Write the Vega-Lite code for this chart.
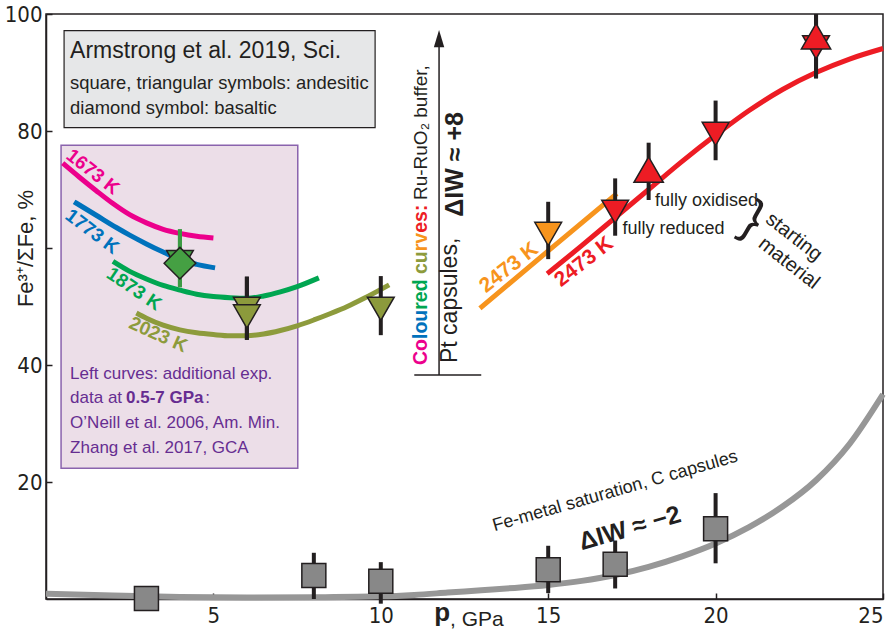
{
  "$schema": "https://vega.github.io/schema/vega-lite/v6.json",
  "width": 837,
  "height": 585,
  "autosize": "none",
  "padding": {"left": 46, "top": 14, "right": 10, "bottom": 38},
  "background": "white",
  "config": {
    "font": "Liberation Sans",
    "view": {"stroke": "#231f20", "strokeWidth": 1.5},
    "axis": {"grid": false, "domainColor": "#231f20", "domainWidth": 1.5, "tickColor": "#231f20", "tickWidth": 1.5, "tickSize": -6, "labelFont": "Liberation Sans Narrow, DejaVu Sans Condensed, Liberation Sans", "labelFontSize": 22, "labelColor": "#231f20"},
    "text": {"font": "Liberation Sans", "color": "#231f20"}
  },
  "datasets": {
    "pts": [
      {"p": 3, "f": 0.1, "lo": 0.1, "hi": 0.1, "series": "Fe-metal", "marker": "square"},
      {"p": 8, "f": 4.0, "lo": 0, "hi": 7.9, "series": "Fe-metal", "marker": "square"},
      {"p": 10, "f": 3.05, "lo": -0.8, "hi": 6.3, "series": "Fe-metal", "marker": "square"},
      {"p": 15, "f": 5.0, "lo": 1.0, "hi": 9.1, "series": "Fe-metal", "marker": "square"},
      {"p": 17, "f": 5.95, "lo": 1.8, "hi": 10.0, "series": "Fe-metal", "marker": "square"},
      {"p": 20, "f": 12.0, "lo": 6.1, "hi": 18.1, "series": "Fe-metal", "marker": "square"},
      {"p": 4, "f": 57.6, "lo": 53.3, "hi": 63.2, "series": "1873 K", "marker": "down"},
      {"p": 4, "f": 57.4, "lo": 53.3, "hi": 63.2, "series": "1873 K", "marker": "diamond"},
      {"p": 6, "f": 49.6, "lo": 44.3, "hi": 55.1, "series": "2023 K", "marker": "down"},
      {"p": 6, "f": 48.3, "lo": 44.3, "hi": 55.1, "series": "2023 K", "marker": "down"},
      {"p": 10, "f": 49.6, "lo": 45.1, "hi": 55.2, "series": "2023 K", "marker": "down"},
      {"p": 15, "f": 62.4, "lo": 58.1, "hi": 67.9, "series": "2473 K a", "marker": "down"},
      {"p": 17, "f": 66.2, "lo": 62.1, "hi": 71.9, "series": "2473 K b", "marker": "down"},
      {"p": 18, "f": 73.4, "lo": 68.2, "hi": 78.0, "series": "2473 K b", "marker": "up"},
      {"p": 20, "f": 79.5, "lo": 75.0, "hi": 85.2, "series": "2473 K b", "marker": "down"},
      {"p": 23, "f": 94.3, "lo": 89.0, "hi": 100, "series": "2473 K b", "marker": "down"},
      {"p": 23, "f": 96.2, "lo": 89.0, "hi": 100, "series": "2473 K b", "marker": "up"}
    ],
    "curves": [
      {"series": "1673 K", "p": 0.5, "f": 74.5}, {"series": "1673 K", "p": 1, "f": 72.1}, {"series": "1673 K", "p": 1.5, "f": 69.8}, {"series": "1673 K", "p": 2, "f": 67.6}, {"series": "1673 K", "p": 2.5, "f": 65.7}, {"series": "1673 K", "p": 3, "f": 64.3}, {"series": "1673 K", "p": 3.5, "f": 63.2}, {"series": "1673 K", "p": 4, "f": 62.5}, {"series": "1673 K", "p": 4.5, "f": 62.0}, {"series": "1673 K", "p": 5, "f": 61.7},
      {"series": "1773 K", "p": 0.84, "f": 67.9}, {"series": "1773 K", "p": 1.5, "f": 65.6}, {"series": "1773 K", "p": 2.1, "f": 63.5}, {"series": "1773 K", "p": 2.5, "f": 62.2}, {"series": "1773 K", "p": 3, "f": 60.7}, {"series": "1773 K", "p": 3.5, "f": 59.3}, {"series": "1773 K", "p": 4, "f": 58.0}, {"series": "1773 K", "p": 4.5, "f": 57.2}, {"series": "1773 K", "p": 5.05, "f": 56.6},
      {"series": "1873 K", "p": 2.0, "f": 57.7}, {"series": "1873 K", "p": 2.5, "f": 56.0}, {"series": "1873 K", "p": 3, "f": 54.7}, {"series": "1873 K", "p": 3.5, "f": 53.6}, {"series": "1873 K", "p": 4, "f": 52.8}, {"series": "1873 K", "p": 4.5, "f": 52.1}, {"series": "1873 K", "p": 5, "f": 51.7}, {"series": "1873 K", "p": 5.5, "f": 51.5}, {"series": "1873 K", "p": 6, "f": 51.4}, {"series": "1873 K", "p": 6.5, "f": 51.8}, {"series": "1873 K", "p": 7, "f": 52.5}, {"series": "1873 K", "p": 7.5, "f": 53.4}, {"series": "1873 K", "p": 8.15, "f": 54.9},
      {"series": "2023 K", "p": 2.7, "f": 48.9}, {"series": "2023 K", "p": 3, "f": 48.0}, {"series": "2023 K", "p": 3.5, "f": 46.8}, {"series": "2023 K", "p": 4, "f": 46.0}, {"series": "2023 K", "p": 4.5, "f": 45.5}, {"series": "2023 K", "p": 5, "f": 45.2}, {"series": "2023 K", "p": 5.5, "f": 45.0}, {"series": "2023 K", "p": 6, "f": 45.0}, {"series": "2023 K", "p": 6.5, "f": 45.3}, {"series": "2023 K", "p": 7, "f": 45.9}, {"series": "2023 K", "p": 7.5, "f": 46.7}, {"series": "2023 K", "p": 8, "f": 47.7}, {"series": "2023 K", "p": 8.5, "f": 48.8}, {"series": "2023 K", "p": 9, "f": 50.0}, {"series": "2023 K", "p": 9.5, "f": 51.4}, {"series": "2023 K", "p": 10.25, "f": 53.7},
      {"series": "2473 K a", "p": 12.96, "f": 49.7}, {"series": "2473 K a", "p": 15, "f": 59.5}, {"series": "2473 K a", "p": 17.05, "f": 69.3},
      {"series": "2473 K b", "p": 14.97, "f": 55.6}, {"series": "2473 K b", "p": 16, "f": 60.4}, {"series": "2473 K b", "p": 17, "f": 65.2}, {"series": "2473 K b", "p": 18, "f": 70.0}, {"series": "2473 K b", "p": 19, "f": 74.8}, {"series": "2473 K b", "p": 20, "f": 79.3}, {"series": "2473 K b", "p": 21, "f": 83.5}, {"series": "2473 K b", "p": 22, "f": 87.1}, {"series": "2473 K b", "p": 23, "f": 90.0}, {"series": "2473 K b", "p": 24, "f": 92.3}, {"series": "2473 K b", "p": 25, "f": 94.1}
    ],
    "gray": [
      {"p": 0, "f": 0.9}, {"p": 2, "f": 0.6}, {"p": 4, "f": 0.35}, {"p": 6, "f": 0.25}, {"p": 8, "f": 0.3}, {"p": 10, "f": 0.45}, {"p": 11, "f": 0.7}, {"p": 12, "f": 1.1}, {"p": 13, "f": 1.5}, {"p": 14, "f": 1.9}, {"p": 15, "f": 2.4}, {"p": 16, "f": 3.1}, {"p": 17, "f": 4.1}, {"p": 18, "f": 5.5}, {"p": 19, "f": 7.3}, {"p": 20, "f": 9.5}, {"p": 21, "f": 12.3}, {"p": 22, "f": 15.8}, {"p": 23, "f": 20.3}, {"p": 24, "f": 26.5}, {"p": 25, "f": 35.0}
    ]
  },
  "encoding": {
    "x": {"field": "p", "type": "quantitative", "scale": {"domain": [0, 25], "nice": false, "zero": false}, "axis": {"values": [5, 10, 15, 20, 25], "labelPadding": 12, "title": null}},
    "y": {"field": "f", "type": "quantitative", "scale": {"domain": [0, 100], "nice": false}, "axis": {"values": [20, 40, 60, 80, 100], "labelExpr": "datum.value == 60 ? '' : datum.label", "labelPadding": 10, "title": "Fe³⁺/ΣFe, %", "titleFont": "Liberation Sans", "titleFontSize": 22, "titleFontWeight": "normal", "titleColor": "#231f20", "titleX": -21, "titleY": 234, "titleAngle": -90, "titleAlign": "center", "titleBaseline": "middle"}}
  },
  "resolve": {"scale": {"color": "independent", "fill": "independent", "stroke": "independent", "shape": "independent", "size": "independent"}},
  "layer": [
    {
      "data": {"values": [{"p": 0.54, "p2": 9.83, "f": 97.15, "f2": 80.56}]},
      "mark": {"type": "rect", "fill": "#e6e7e8", "stroke": "#231f20", "strokeWidth": 1.2},
      "encoding": {"x2": {"field": "p2"}, "y2": {"field": "f2"}}
    },
    {
      "data": {"values": [{"p": 0.45, "p2": 7.52, "f": 77.55, "f2": 22.34}]},
      "mark": {"type": "rect", "fill": "#ecdee8", "stroke": "#8a63ad", "strokeWidth": 1.5},
      "encoding": {"x2": {"field": "p2"}, "y2": {"field": "f2"}}
    },
    {
      "data": {"name": "gray"},
      "mark": {"type": "line", "stroke": "#979797", "strokeWidth": 6, "interpolate": "monotone"},
      "encoding": {}
    },
    {
      "data": {"name": "curves"},
      "mark": {"type": "line", "strokeWidth": 5, "interpolate": "monotone"},
      "encoding": {
        "stroke": {"field": "series", "type": "nominal", "legend": null, "scale": {"domain": ["1673 K", "1773 K", "1873 K", "2023 K", "2473 K a", "2473 K b"], "range": ["#ec008c", "#0072bc", "#00a651", "#8d9b3c", "#f7941d", "#ed1c24"]}}
      }
    },
    {
      "data": {"values": [{"p": 11.74, "f": 38.3, "f2": 95.5}]},
      "mark": {"type": "rule", "stroke": "#231f20", "strokeWidth": 1.5},
      "encoding": {"y2": {"field": "f2"}}
    },
    {
      "data": {"values": [{"p": 11.0, "p2": 13.0, "f": 38.3}]},
      "mark": {"type": "rule", "stroke": "#231f20", "strokeWidth": 1.5},
      "encoding": {"x2": {"field": "p2"}}
    },
    {
      "data": {"values": [{"p": 11.74, "f": 95.8}]},
      "mark": {"type": "point", "shape": "M0,-1L0.6,1L-0.6,1Z", "size": 300, "filled": true, "fill": "#231f20", "opacity": 1, "strokeWidth": 0},
      "encoding": {}
    },
    {
      "data": {"name": "pts"},
      "mark": {"type": "rule", "strokeWidth": 4},
      "encoding": {
        "y": {"field": "lo", "type": "quantitative", "scale": {"domain": [0, 100], "nice": false}, "axis": {"values": [20, 40, 60, 80, 100], "labelExpr": "datum.value == 60 ? '' : datum.label", "labelPadding": 10, "title": "Fe³⁺/ΣFe, %", "titleFont": "Liberation Sans", "titleFontSize": 22, "titleFontWeight": "normal", "titleColor": "#231f20", "titleX": -21, "titleY": 234, "titleAngle": -90, "titleAlign": "center", "titleBaseline": "middle"}},
        "y2": {"field": "hi"},
        "color": {"field": "series", "type": "nominal", "legend": null, "scale": {"domain": ["Fe-metal", "1873 K", "2023 K", "2473 K a", "2473 K b"], "range": ["#231f20", "#3b9a43", "#231f20", "#231f20", "#231f20"]}}
      }
    },
    {
      "data": {"name": "pts"},
      "mark": {"type": "point", "filled": true, "opacity": 1, "stroke": "#231f20", "strokeWidth": 1.5},
      "encoding": {
        "shape": {"field": "marker", "type": "nominal", "legend": null, "scale": {"domain": ["square", "down", "up", "diamond"], "range": ["square", "triangle-down", "triangle-up", "diamond"]}},
        "size": {"field": "marker", "type": "nominal", "legend": null, "scale": {"domain": ["square", "down", "up", "diamond"], "range": [576, 1000, 1000, 730]}},
        "fill": {"field": "series", "type": "nominal", "legend": null, "scale": {"domain": ["Fe-metal", "1873 K", "2023 K", "2473 K a", "2473 K b"], "range": ["#888888", "#45a043", "#8c9a3c", "#f7941d", "#ed1c24"]}}
      }
    },
    {
      "data": {"values": [{"p": 0.72, "f": 92.4, "label": "Armstrong et al. 2019, Sci."}]},
      "mark": {"type": "text", "fontSize": 23, "align": "left", "baseline": "alphabetic"},
      "encoding": {"text": {"field": "label"}}
    },
    {
      "data": {"values": [{"p": 0.72, "f": 87.1, "label": "square, triangular symbols: andesitic"}, {"p": 0.72, "f": 82.9, "label": "diamond symbol: basaltic"}]},
      "mark": {"type": "text", "fontSize": 18.4, "align": "left", "baseline": "alphabetic"},
      "encoding": {"text": {"field": "label"}}
    },
    {
      "data": {"values": [{"p": 0.72, "f": 37.56, "label": "Left curves: additional exp."}, {"p": 0.72, "f": 33.45, "label": "data at"}, {"p": 4.76, "f": 33.45, "label": ":"}, {"p": 0.72, "f": 29.2, "label": "O’Neill et al. 2006, Am. Min."}, {"p": 0.72, "f": 25.0, "label": "Zhang et al. 2017, GCA"}]},
      "mark": {"type": "text", "fontSize": 17, "align": "left", "baseline": "alphabetic", "color": "#662d91"},
      "encoding": {"text": {"field": "label"}}
    },
    {
      "data": {"values": [{"p": 2.39, "f": 33.45, "label": "0.5-7 GPa"}]},
      "mark": {"type": "text", "fontSize": 17, "fontWeight": "bold", "align": "left", "baseline": "alphabetic", "color": "#662d91"},
      "encoding": {"text": {"field": "label"}}
    },
    {
      "data": {"values": [{"p": 1.40, "f": 73.0, "label": "1673 K"}]},
      "mark": {"type": "text", "fontSize": 19, "fontWeight": "bold", "angle": 38, "color": "#ec008c"},
      "encoding": {"text": {"field": "label"}}
    },
    {
      "data": {"values": [{"p": 1.38, "f": 62.8, "label": "1773 K"}]},
      "mark": {"type": "text", "fontSize": 19, "fontWeight": "bold", "angle": 37, "color": "#0072bc"},
      "encoding": {"text": {"field": "label"}}
    },
    {
      "data": {"values": [{"p": 2.63, "f": 53.0, "label": "1873 K"}]},
      "mark": {"type": "text", "fontSize": 19, "fontWeight": "bold", "angle": 34, "color": "#00a651"},
      "encoding": {"text": {"field": "label"}}
    },
    {
      "data": {"values": [{"p": 3.35, "f": 45.2, "label": "2023 K"}]},
      "mark": {"type": "text", "fontSize": 19, "fontWeight": "bold", "angle": 24, "color": "#8d9b3c"},
      "encoding": {"text": {"field": "label"}}
    },
    {
      "data": {"values": [{"p": 13.83, "f": 56.6, "label": "2473 K"}]},
      "mark": {"type": "text", "fontSize": 21, "fontWeight": "bold", "angle": -38, "color": "#f7941d"},
      "encoding": {"text": {"field": "label"}}
    },
    {
      "data": {"values": [{"p": 16.07, "f": 57.6, "label": "2473 K"}]},
      "mark": {"type": "text", "fontSize": 21, "fontWeight": "bold", "angle": -38, "color": "#ed1c24"},
      "encoding": {"text": {"field": "label"}}
    },
    {
      "data": {"values": [{"p": 18.19, "f": 67.1, "label": "fully oxidised"}, {"p": 17.22, "f": 62.4, "label": "fully reduced"}]},
      "mark": {"type": "text", "fontSize": 18, "align": "left", "baseline": "alphabetic"},
      "encoding": {"text": {"field": "label"}}
    },
    {
      "data": {"values": [{"p": 21.12, "f": 64.8, "label": "}"}]},
      "mark": {"type": "text", "fontSize": 50, "angle": 30, "align": "center", "baseline": "middle"},
      "encoding": {"text": {"field": "label"}}
    },
    {
      "data": {"values": [{"p": 22.34, "f": 61.9, "label": "starting"}, {"p": 22.19, "f": 57.4, "label": "material"}]},
      "mark": {"type": "text", "fontSize": 20, "angle": 38, "align": "center", "baseline": "middle"},
      "encoding": {"text": {"field": "label"}}
    },
    {
      "data": {"values": [
        {"p": 11.38, "f": 40.0, "label": "Co", "series": "1673 K"},
        {"p": 11.38, "f": 44.44, "label": "lou", "series": "1773 K"},
        {"p": 11.38, "f": 49.44, "label": "red", "series": "1873 K"},
        {"p": 11.38, "f": 55.56, "label": "cu", "series": "2023 K"},
        {"p": 11.38, "f": 59.45, "label": "rv", "series": "2473 K a"},
        {"p": 11.38, "f": 62.6, "label": "es:", "series": "2473 K b"}
      ]},
      "mark": {"type": "text", "fontSize": 19.5, "fontWeight": "bold", "angle": -90, "align": "left", "baseline": "alphabetic"},
      "encoding": {
        "text": {"field": "label"},
        "color": {"field": "series", "type": "nominal", "legend": null, "scale": {"domain": ["1673 K", "1773 K", "1873 K", "2023 K", "2473 K a", "2473 K b"], "range": ["#ec008c", "#0072bc", "#00a651", "#8d9b3c", "#f7941d", "#ed1c24"]}}
      }
    },
    {
      "data": {"values": [{"p": 11.38, "f": 68.2, "label": "Ru-RuO₂ buffer,"}]},
      "mark": {"type": "text", "fontSize": 19, "angle": -90, "align": "left", "baseline": "alphabetic"},
      "encoding": {"text": {"field": "label"}}
    },
    {
      "data": {"values": [{"p": 12.28, "f": 40.34, "label": "Pt capsules,"}]},
      "mark": {"type": "text", "fontSize": 23, "angle": -90, "align": "left", "baseline": "alphabetic"},
      "encoding": {"text": {"field": "label"}}
    },
    {
      "data": {"values": [{"p": 12.45, "f": 65.35, "label": "ΔIW ≈ +8"}]},
      "mark": {"type": "text", "fontSize": 25, "fontWeight": "bold", "angle": -90, "align": "left", "baseline": "alphabetic"},
      "encoding": {"text": {"field": "label"}}
    },
    {
      "data": {"values": [{"p": 17.0, "f": 18.4, "label": "Fe-metal saturation, C capsules"}]},
      "mark": {"type": "text", "fontSize": 18, "angle": -16, "align": "center", "baseline": "middle"},
      "encoding": {"text": {"field": "label"}}
    },
    {
      "data": {"values": [{"p": 17.44, "f": 12.1, "label": "ΔIW ≈ −2"}]},
      "mark": {"type": "text", "fontSize": 25, "fontWeight": "bold", "angle": -16, "align": "center", "baseline": "middle"},
      "encoding": {"text": {"field": "label"}}
    },
    {
      "data": {"values": [{"p": 11.6, "f": -3.8, "label": "p"}]},
      "mark": {"type": "text", "fontSize": 26, "fontWeight": "bold", "align": "left", "baseline": "alphabetic"},
      "encoding": {"text": {"field": "label"}}
    },
    {
      "data": {"values": [{"p": 12.07, "f": -4.6, "label": ", GPa"}]},
      "mark": {"type": "text", "fontSize": 21, "align": "left", "baseline": "alphabetic"},
      "encoding": {"text": {"field": "label"}}
    }
  ]
}
